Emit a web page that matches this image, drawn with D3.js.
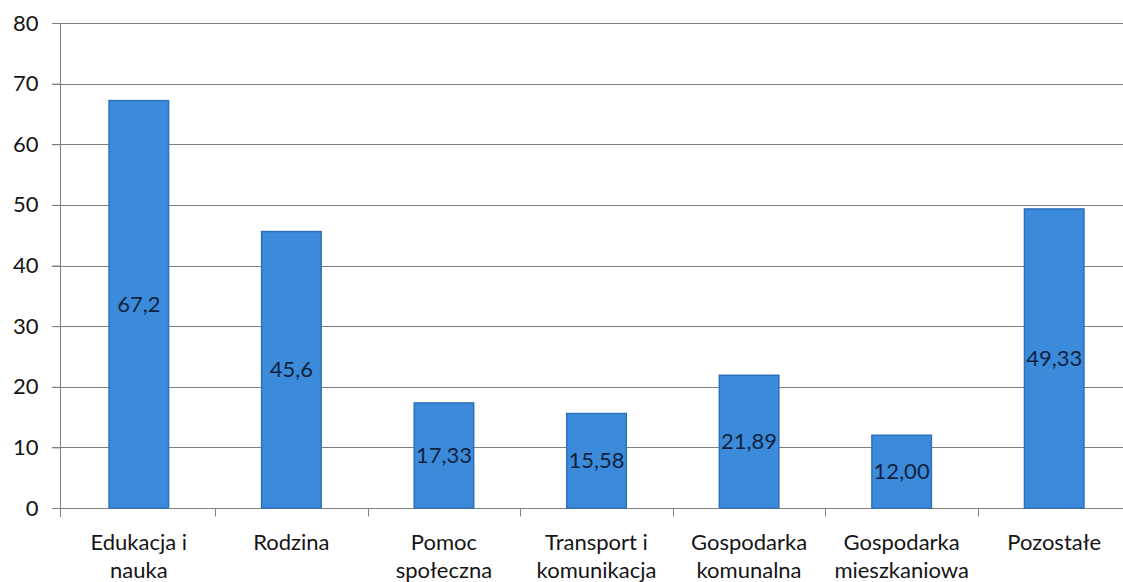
<!DOCTYPE html>
<html>
<head>
<meta charset="utf-8">
<script src="https://cdn.jsdelivr.net/npm/d3@7"></script>
<style>
  html, body { margin: 0; padding: 0; background: #ffffff; }
  svg { display: block; }
</style>
</head>
<body>
<svg id="chart" width="1123" height="582"></svg>
<script>
const categories = [
  ["Edukacja i", "nauka"],
  ["Rodzina"],
  ["Pomoc", "społeczna"],
  ["Transport i", "komunikacja"],
  ["Gospodarka", "komunalna"],
  ["Gospodarka", "mieszkaniowa"],
  ["Pozostałe"]
];
const values = [67.2, 45.6, 17.33, 15.58, 21.89, 12.00, 49.33];
const valueLabels = ["67,2", "45,6", "17,33", "15,58", "21,89", "12,00", "49,33"];
const yTicks = [0, 10, 20, 30, 40, 50, 60, 70, 80];

const svg = d3.select("#chart");
const font = "Lato, 'Open Sans', sans-serif";
const ids = categories.map((c, i) => i);

const x = d3.scaleBand().domain(ids).range([62.5, 1130.5]).paddingInner(0.61).paddingOuter(0.305);
const xStep = d3.scaleBand().domain(ids).range([62.5, 1130.5]).padding(0);
const y = d3.scaleLinear().domain([0, 80]).range([508, 23]);

// gridlines
svg.append("g").selectAll("line").data(yTicks.filter(d => d > 0)).join("line")
  .attr("x1", 52).attr("x2", 1123)
  .attr("y1", d => Math.round(y(d)) + 0.5).attr("y2", d => Math.round(y(d)) + 0.5)
  .attr("stroke", "#7e7e7e").attr("stroke-width", 1);

// y axis
const yAxis = d3.axisLeft(y).tickValues(yTicks).tickSize(8).tickPadding(14).tickFormat(d3.format("d"));
const gy = svg.append("g").attr("transform", "translate(60.5,0)").call(yAxis);
gy.select(".domain").attr("d", `M0,${y(80)}V517`).attr("stroke", "#808080");
gy.selectAll(".tick line").attr("stroke", "#808080");
gy.selectAll(".tick text").attr("font-family", font).attr("font-size", 22).attr("fill", "#151515");

// x axis
const gx = svg.append("g").attr("transform", `translate(0,${Math.round(y(0)) + 0.5})`);
gx.append("line").attr("x1", 52).attr("x2", 1123).attr("stroke", "#808080");
gx.selectAll("line.t").data(ids.slice(1)).join("line").attr("class", "t")
  .attr("x1", d => Math.round(xStep(d)) + 0.5).attr("x2", d => Math.round(xStep(d)) + 0.5)
  .attr("y1", 0).attr("y2", 8).attr("stroke", "#808080");

// bars
svg.append("g").selectAll("rect").data(values).join("rect")
  .attr("x", (d, i) => x(i))
  .attr("width", x.bandwidth())
  .attr("y", d => y(d))
  .attr("height", d => y(0) - y(d))
  .attr("fill", "#3c8bda")
  .attr("stroke", "#2d70bd")
  .attr("stroke-width", 1.5);

// value labels
svg.append("g").selectAll("text").data(values).join("text")
  .attr("x", (d, i) => x(i) + x.bandwidth() / 2)
  .attr("y", d => (y(d) + y(0)) / 2)
  .attr("dy", "0.35em")
  .attr("text-anchor", "middle")
  .attr("font-family", font).attr("font-size", 22)
  .attr("fill", "#10223f")
  .text((d, i) => valueLabels[i]);

// category labels
const cl = svg.append("g").selectAll("text").data(categories).join("text")
  .attr("text-anchor", "middle")
  .attr("font-family", font).attr("font-size", 22).attr("fill", "#151515");
cl.each(function(lines, i) {
  const t = d3.select(this);
  lines.forEach((ln, j) => {
    t.append("tspan").attr("x", x(i) + x.bandwidth() / 2).attr("y", 550 + j * 28).text(ln);
  });
});
</script>
</body>
</html>
